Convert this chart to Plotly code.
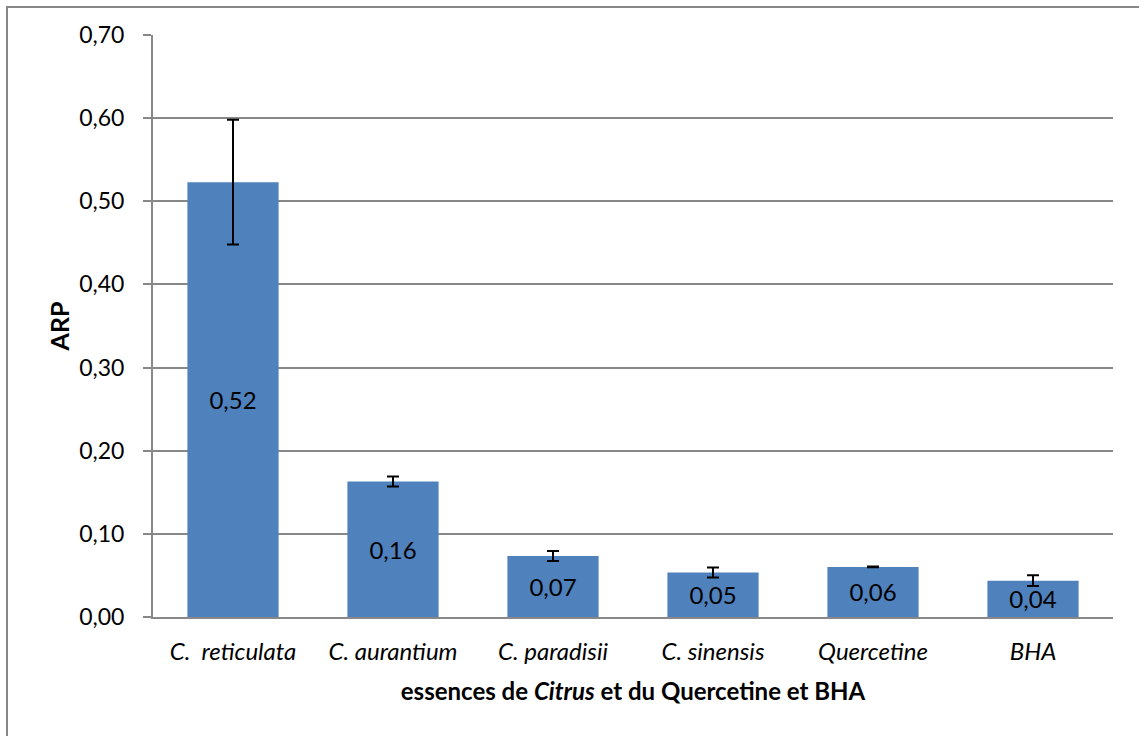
import plotly.graph_objects as go

categories = ["C.  reticulata", "C. aurantium", "C. paradisii", "C. sinensis", "Quercetine", "BHA"]
arp_values = [0.523, 0.163, 0.0735, 0.0534, 0.0602, 0.0437]
arp_errors = [0.075, 0.006, 0.006, 0.006, 0.0005, 0.0065]
y_ticks = [0.0, 0.1, 0.2, 0.3, 0.4, 0.5, 0.6, 0.7]

FONT = "Lato, Liberation Sans, sans-serif"
GRID = "#888888"

fig = go.Figure()
fig.add_trace(go.Bar(
    x=categories,
    y=arp_values,
    width=0.57,
    marker=dict(color="#4F81BD", line=dict(width=0)),
    error_y=dict(type="data", array=arp_errors, visible=True, color="black", thickness=2, width=6),
    texttemplate="%{y:.2f}",
    textposition="inside",
    insidetextanchor="middle",
    constraintext="none",
    textfont=dict(family=FONT, size=24, color="black"),
    textangle=0,
))

fig.update_layout(
    width=1139, height=736,
    margin=dict(l=153, r=26, t=35, b=119),
    plot_bgcolor="white", paper_bgcolor="white",
    separators=", ",
    showlegend=False,
    font=dict(family=FONT, size=22, color="black"),
    xaxis=dict(
        type="category",
        showline=True, linecolor=GRID, linewidth=2,
        ticks="", showgrid=False,
        tickfont=dict(family=FONT, size=24, style="italic"),
        ticklabelstandoff=12,
        title=dict(text="<b>essences de <i>Citrus</i> et du Quercetine et BHA</b>",
                   font=dict(family=FONT, size=24), standoff=19),
    ),
    yaxis=dict(
        range=[0, 0.7], tickvals=y_ticks, tickformat=".2f",
        showline=True, linecolor=GRID, linewidth=2,
        ticks="outside", ticklen=8, tickcolor=GRID, tickwidth=2,
        showgrid=True, gridcolor=GRID, gridwidth=1.5,
        zeroline=False,
        tickfont=dict(family=FONT, size=23),
        ticklabelstandoff=14,
        title=dict(text="<b>ARP</b>", font=dict(family=FONT, size=25), standoff=2),
    ),
    shapes=[dict(
        type="rect", xref="paper", yref="paper",
        x0=(7 - 153) / 960, x1=1.2, y0=-0.4, y1=(617 - 7) / 582,
        line=dict(color=GRID, width=2), fillcolor="rgba(0,0,0,0)", layer="below",
    )],
)

fig.write_html("out.html", config={"displayModeBar": False},
               post_script="document.body.style.margin='0';document.body.style.padding='0';")
